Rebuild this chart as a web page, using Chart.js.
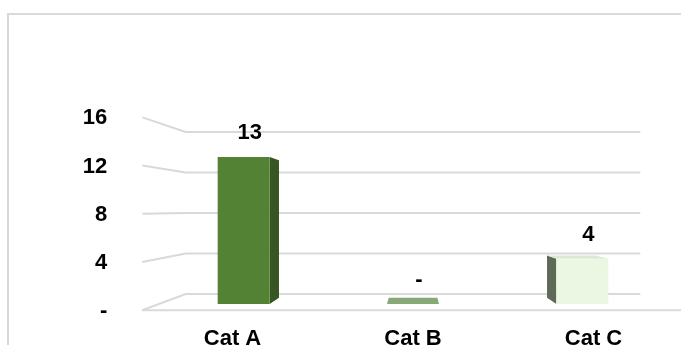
<!DOCTYPE html>
<html>
<head>
<meta charset="utf-8">
<script src="https://cdn.jsdelivr.net/npm/chart.js@4/dist/chart.umd.min.js"></script>
<style>
    body { margin: 0; background: #ffffff; overflow: hidden; }
    #frame {
        position: absolute; left: 7px; top: 13px;
        width: 720px; height: 380px;
        border: 2px solid #d9d9d9; box-sizing: border-box;
    }
    #chart { position: absolute; left: 0; top: 0; }
</style>
</head>
<body>
<div id="frame"></div>
<canvas id="chart" width="681" height="345"></canvas>
<script>
const categories = ["Cat A", "Cat B", "Cat C"];
const values = [13, 0, 4];
const yTickValues = [0, 4, 8, 12, 16];
const yTickLabels = ["-", "4", "8", "12", "16"];

const frontColors = ["#548235", "#a9d18e", "#ebf6e3"];
const sideColors = ["#375623", "#6f8a5e", "#5e6a57"];
const topColors = ["#416a29", "#88a878", "#dce8d3"];

// fake 3D: each plane is the bar plane scaled toward a vanishing point
const FRONT = 1.066;
const BACK = 0.895;
const BAR_DEPTH = 0.935;
const VANISH_Y = 0.475;
const FONT = "bold 22px 'Liberation Sans', Arial, sans-serif";

function vanish(area) {
    return [
        (area.left + area.right) / 2,
        area.top + VANISH_Y * (area.bottom - area.top)
    ];
}

function project(area, x, y, s) {
    const [cx, cy] = vanish(area);
    return [cx + s * (x - cx), cy + s * (y - cy)];
}

function poly(ctx, pts, color) {
    ctx.fillStyle = color;
    ctx.beginPath();
    ctx.moveTo(pts[0][0], pts[0][1]);
    pts.slice(1).forEach(p => ctx.lineTo(p[0], p[1]));
    ctx.closePath();
    ctx.fill();
}

const depthPlugin = {
    id: "depth",

    beforeDatasetsDraw(chart) {
        const ctx = chart.ctx;
        const area = chart.chartArea;
        const yScale = chart.scales.y;
        const [cx, cy] = vanish(area);

        ctx.save();
        ctx.strokeStyle = "#d9d9d9";
        ctx.lineWidth = 2;

        // back wall gridlines + left side wall
        yTickValues.forEach(v => {
            const py = yScale.getPixelForValue(v);
            const f = project(area, area.left, py, FRONT);
            const b = project(area, area.left, py, BACK);
            const r = project(area, area.right, py, BACK);
            ctx.beginPath();
            ctx.moveTo(f[0], f[1]);
            ctx.lineTo(b[0], b[1]);
            ctx.lineTo(r[0], r[1]);
            ctx.stroke();
        });

        // front edge of the floor
        const base = yScale.getPixelForValue(0);
        const fl = project(area, area.left, base, FRONT);
        const fr = project(area, area.right, base, FRONT);
        ctx.beginPath();
        ctx.moveTo(fl[0], fl[1]);
        ctx.lineTo(fr[0], fr[1]);
        ctx.stroke();

        // bar side and top faces
        const meta = chart.getDatasetMeta(0);
        meta.data.forEach((bar, i) => {
            const l = bar.x - bar.width / 2;
            const r = bar.x + bar.width / 2;
            const top = Math.min(bar.y, bar.base);
            const bottom = Math.max(bar.y, bar.base);

            if (r < cx) {
                poly(ctx, [
                    [r, top], [r, bottom],
                    project(area, r, bottom, BAR_DEPTH),
                    project(area, r, top, BAR_DEPTH)
                ], sideColors[i]);
            }
            if (l > cx) {
                poly(ctx, [
                    [l, top], [l, bottom],
                    project(area, l, bottom, BAR_DEPTH),
                    project(area, l, top, BAR_DEPTH)
                ], sideColors[i]);
            }
            if (top > cy) {
                poly(ctx, [
                    [l, top], [r, top],
                    project(area, r, top, BAR_DEPTH),
                    project(area, l, top, BAR_DEPTH)
                ], topColors[i]);
            }
        });

        ctx.restore();
    },

    afterDatasetsDraw(chart) {
        const ctx = chart.ctx;
        const area = chart.chartArea;
        const yScale = chart.scales.y;
        const base = yScale.getPixelForValue(0);

        ctx.save();
        ctx.font = FONT;
        ctx.fillStyle = "#000000";

        // y tick labels on the front plane
        ctx.textAlign = "right";
        ctx.textBaseline = "middle";
        yTickValues.forEach((v, i) => {
            const p = project(area, area.left, yScale.getPixelForValue(v), FRONT);
            ctx.fillText(yTickLabels[i], p[0] - 35, p[1] + 1);
        });

        // data labels
        ctx.textAlign = "center";
        const meta = chart.getDatasetMeta(0);
        meta.data.forEach((bar, i) => {
            const top = Math.min(bar.y, bar.base);
            const text = values[i] === 0 ? "-" : String(values[i]);
            ctx.fillText(text, bar.x + 6, top - 24);
        });

        // category labels on the front plane
        ctx.textBaseline = "alphabetic";
        meta.data.forEach((bar, i) => {
            const p = project(area, bar.x, base, FRONT);
            ctx.fillText(categories[i], p[0], p[1] + 35);
        });

        ctx.restore();
    }
};

const ctx =
    document
    .getElementById("chart")
    .getContext("2d");

new Chart(ctx, {

    type: "bar",

    data: {
        labels: categories,
        datasets: [
            {
                data: values,
                backgroundColor: frontColors,
                borderWidth: 0,
                barPercentage: 0.307,
                categoryPercentage: 1
            }
        ]
    },

    options: {
        responsive: false,
        animation: false,
        devicePixelRatio: 1,

        layout: {
            padding: { left: 159, right: 14, top: 123, bottom: 41 }
        },

        plugins: {
            legend: { display: false },
            tooltip: { enabled: false }
        },

        scales: {
            x: { display: false },
            y: { display: false, min: 0, max: 16 }
        }
    },

    plugins: [depthPlugin]

});
</script>
</body>
</html>
